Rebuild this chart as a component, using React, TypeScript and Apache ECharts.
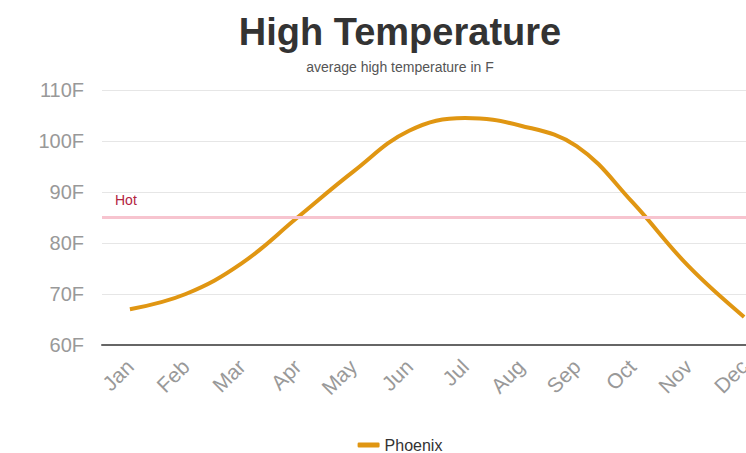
import React, { useEffect, useRef } from "react";
import * as echarts from "echarts";

const months = ["Jan", "Feb", "Mar", "Apr", "May", "Jun", "Jul", "Aug", "Sep", "Oct", "Nov", "Dec"];
const phoenixHigh = [67, 70, 76, 85, 94, 102, 104.5, 103, 99, 88, 75.5, 65.5];
const hotThreshold = 85;
const yTicks = { min: 60, max: 110, interval: 10 };

const FONT = "'Liberation Sans', Arial, sans-serif";

export default function App() {
  const ref = useRef<HTMLDivElement>(null);
  useEffect(() => {
    if (!ref.current) return;
    const chart = echarts.init(ref.current, undefined, { renderer: "svg" });
    chart.setOption({
      animation: false,
      backgroundColor: "#ffffff",
      textStyle: { fontFamily: FONT },
      title: {
        text: "High Temperature",
        subtext: "average high temperature in F",
        left: "center",
        top: 8,
        itemGap: 9,
        textStyle: { fontFamily: FONT, fontSize: 38, fontWeight: "bold", color: "#333333" },
        subtextStyle: { fontFamily: FONT, fontSize: 14, color: "#555555" },
      },
      legend: {
        top: 437,
        left: "center",
        padding: 0,
        icon: "roundRect",
        itemWidth: 22,
        itemHeight: 5,
        textStyle: { fontFamily: FONT, fontSize: 16, color: "#333333" },
        data: ["Phoenix"],
      },
      grid: { left: 102, right: 28, top: 90, bottom: 108, containLabel: false },
      xAxis: {
        type: "category",
        data: months,
        boundaryGap: true,
        axisLine: { show: true, lineStyle: { color: "#666666", width: 2 } },
        axisTick: { show: false },
        axisLabel: { rotate: 45, color: "#999999", fontSize: 21, fontFamily: FONT, margin: 18 },
      },
      yAxis: {
        type: "value",
        min: yTicks.min,
        max: yTicks.max,
        interval: yTicks.interval,
        axisLine: { show: false },
        axisTick: { show: false },
        axisLabel: { formatter: "{value}F", color: "#999999", fontSize: 20, fontFamily: FONT, margin: 18 },
        splitLine: { lineStyle: { color: "#e6e6e6", width: 1 } },
      },
      series: [
        {
          name: "Phoenix",
          type: "line",
          data: phoenixHigh,
          smooth: 0.4,
          symbol: "none",
          lineStyle: { color: "#e09612", width: 4 },
          itemStyle: { color: "#e09612" },
          markLine: {
            silent: true,
            symbol: "none",
            data: [{ yAxis: hotThreshold }],
            lineStyle: { color: "#f7c4cf", width: 3, type: "solid" },
            label: {
              formatter: "Hot",
              position: "insideStartTop",
              color: "#b3243f",
              fontSize: 14,
              fontFamily: FONT,
              distance: [13, 11],
            },
          },
        },
      ],
    });
    return () => chart.dispose();
  }, []);
  return (
    <div style={{ position: "fixed", left: 0, top: 0, width: 746, height: 453, overflow: "hidden", background: "#fff" }}>
      <div ref={ref} style={{ width: 800, height: 453 }} />
    </div>
  );
}
